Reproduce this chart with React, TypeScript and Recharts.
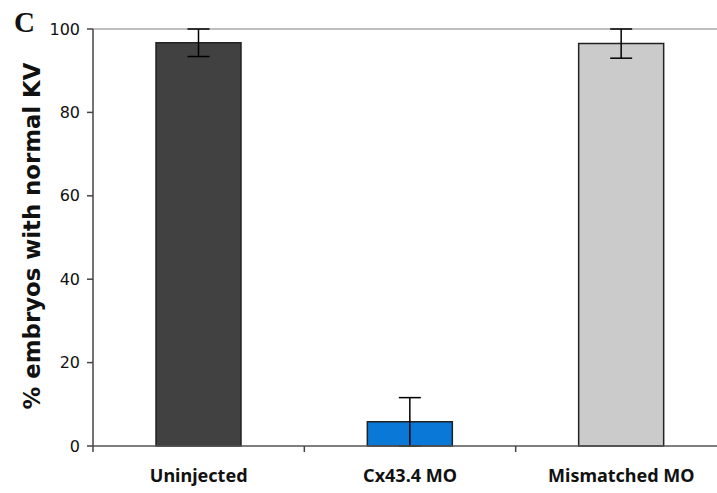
import React from "react";
import { BarChart, Bar, XAxis, YAxis, ErrorBar, ReferenceLine, Cell, Label } from "recharts";

const categories = ["Uninjected", "Cx43.4 MO", "Mismatched MO"];
const values = [96.7, 5.8, 96.5];
const errors = [3.3, 5.8, 3.5];
const colors = ["#414141", "#0A78D6", "#CBCBCB"];
const yTicks = [0, 20, 40, 60, 80, 100];

const data = categories.map((c, i) => ({ name: c, value: values[i], err: errors[i] }));

const XTick = (props: any) => {
  const { x, y, payload } = props;
  const off = payload && payload.offset ? payload.offset : 105.7;
  return (
    <g>
      <line x1={x - off} x2={x - off} y1={y} y2={y + 6} stroke="#444" strokeWidth={1.5} />
      <text
        x={x}
        y={y + 35.5}
        textAnchor="middle"
        fontFamily="Noto Sans"
        fontWeight="bold"
        fontSize={18}
        fill="#111"
      >
        {payload.value}
      </text>
    </g>
  );
};

const YLabel = (props: any) => {
  const cx = 40;
  const cy = 236;
  return (
    <text
      x={cx}
      y={cy}
      transform={`rotate(-90 ${cx} ${cy})`}
      textAnchor="middle"
      fontFamily="DejaVu Sans"
      fontWeight="bold"
      fontSize={22.8}
      fill="#111"
    >
      % embryos with normal KV
    </text>
  );
};

export default function App() {
  return (
    <div style={{ position: "absolute", left: 0, top: 0, width: 717, height: 493, overflow: "hidden", background: "#fff" }}>
      <div
        style={{
          position: "absolute",
          left: 14,
          top: 5,
          fontFamily: "Liberation Serif",
          fontWeight: "bold",
          fontSize: 29,
          lineHeight: "35px",
          color: "#111",
        }}
      >
        C
      </div>
      <BarChart width={740} height={493} data={data} margin={{ top: 29, right: 13, left: 0, bottom: 0 }}>
        <ReferenceLine y={100} stroke="#a8a8a8" strokeWidth={1.5} ifOverflow="extendDomain" />
        <XAxis
          dataKey="name"
          height={47}
          tickSize={0}
          tickMargin={0}
          tickLine={false}
          axisLine={{ stroke: "#555", strokeWidth: 1.5 }}
          tick={<XTick />}
          interval={0}
        />
        <YAxis
          width={93}
          domain={[0, 100]}
          ticks={yTicks}
          interval={0}
          tickSize={6}
          tickMargin={7}
          axisLine={{ stroke: "#444", strokeWidth: 1.5 }}
          tickLine={{ stroke: "#444", strokeWidth: 1.5 }}
          tick={{ fontFamily: "DejaVu Sans", fontSize: 16, fill: "#111" }}
        >
          <Label content={<YLabel />} />
        </YAxis>
        <Bar dataKey="value" barSize={85} stroke="#222" strokeWidth={1.5} isAnimationActive={false}>
          {data.map((d, i) => (
            <Cell key={d.name} fill={colors[i]} />
          ))}
          <ErrorBar dataKey="err" width={11} stroke="#000" strokeWidth={1.5} direction="y" isAnimationActive={false} />
        </Bar>
      </BarChart>
    </div>
  );
}
